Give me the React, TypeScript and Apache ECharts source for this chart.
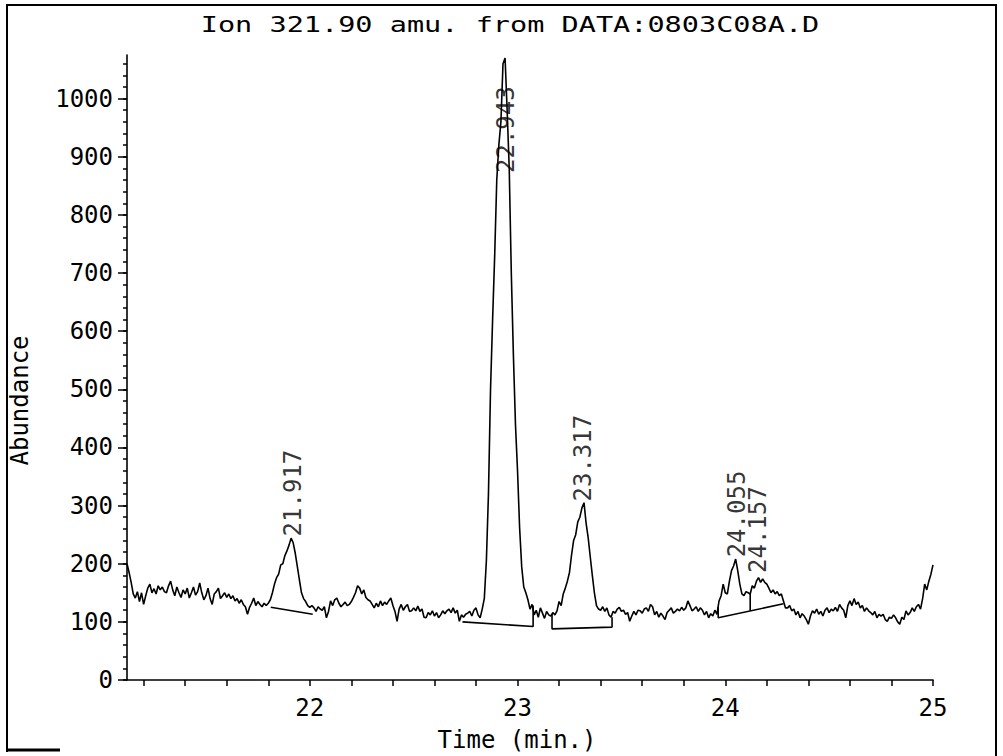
import React, { useEffect, useRef } from "react";
import * as echarts from "echarts";

const TIME_START = 21.12;
const TIME_STEP = 0.01;

// Abundance, one value every 0.01 min from 21.12 to 25.00
const abundance = [
  200, 185, 168, 148, 141, 152, 135, 150,
  130, 145, 158, 165, 150, 157, 148, 162, 155, 160,
  152, 150, 162, 170, 155, 145, 160, 150, 142, 155,
  148, 158, 141, 150, 160, 146, 152, 167, 150, 138,
  145, 158, 140, 130, 148, 152, 158, 140, 145, 150,
  142, 148, 140, 145, 136, 140, 132, 138, 130, 126,
  113, 125, 132, 141, 128, 135, 130, 126, 132, 128,
  132, 138, 150, 165, 176, 182, 198, 200, 214, 222,
  232, 244, 236, 218, 195, 172, 150, 140, 135, 128,
  125, 128, 124, 118, 126, 122, 120, 126, 107, 118,
  136, 128, 138, 141, 132, 126, 130, 134, 128, 130,
  135, 142, 150, 162, 158, 148, 155, 142, 138, 136,
  130, 124, 132, 126, 136, 128, 134, 130, 136, 141,
  128, 118, 101, 122, 130, 120, 126, 130, 118, 119,
  124, 119, 127, 118, 122, 108, 107, 116, 112, 119,
  110, 116, 107, 112, 119, 114, 119, 122, 116, 124,
  115, 120, 101, 112, 108, 113, 115, 118, 110, 120,
  124, 112, 107, 122, 140, 205, 320, 500, 620, 730,
  860, 920, 960, 1060, 1070, 980, 880, 700, 560, 440,
  360, 262, 195, 160, 150, 138, 122, 130, 112, 120,
  108, 124, 115, 106, 118, 112, 110, 116, 112, 119,
  135, 128, 148, 158, 170, 185, 215, 240, 250, 272,
  280, 296, 305, 270, 245, 212, 180, 150, 128, 122,
  120, 126, 118, 124, 112, 108, 118, 115, 122, 125,
  118, 120, 113, 116, 101, 110, 118, 112, 120, 119,
  115, 122, 124, 118, 130, 126, 112, 118, 108, 115,
  110, 104, 116, 120, 124, 115, 118, 122, 119, 125,
  120, 124, 136, 128, 119, 122, 126, 118, 124, 120,
  112, 118, 107, 114, 110, 120, 113, 136, 145, 165,
  150, 148, 170, 188, 196, 208, 188, 165, 148, 145,
  152, 150, 148, 162, 158, 170, 176, 168, 174, 168,
  165, 158, 150, 155, 148, 152, 145, 148, 136, 124,
  124, 128, 119, 122, 112, 118, 107, 114, 110, 104,
  96, 110, 119, 115, 122, 113, 118, 110, 120, 124,
  116, 122, 119, 125, 118, 130, 124, 120, 107, 128,
  136, 128, 140, 130, 134, 124, 128, 118, 124, 119,
  116, 112, 118, 107, 113, 110, 113, 104, 101, 108,
  106, 112, 107, 100, 96, 108, 104, 119, 112, 116,
  124, 118, 126, 130, 122, 140, 165, 155, 170, 182,
  198,
];

const xLabelValues = [22, 23, 24, 25];
const xTickValues = [
  21.2, 21.4, 21.6, 21.8, 22, 22.2, 22.4, 22.6, 22.8, 23, 23.2, 23.4, 23.6,
  23.8, 24, 24.2, 24.4, 24.6, 24.8, 25,
];
const yLabelValues = [0, 100, 200, 300, 400, 500, 600, 700, 800, 900, 1000];
const yMinorTickValues = [
  0, 20, 40, 60, 80, 100, 120, 140, 160, 180, 200, 220, 240, 260, 280, 300,
  320, 340, 360, 380, 400, 420, 440, 460, 480, 500, 520, 540, 560, 580, 600,
  620, 640, 660, 680, 700, 720, 740, 760, 780, 800, 820, 840, 860, 880, 900,
  920, 940, 960, 980, 1000, 1020, 1040, 1060,
];

const peakTimes = [21.917, 22.943, 23.317, 24.055, 24.157];
const peakLabelAbundance = [247, 872, 307, 211, 184];

// integration baselines and drop lines: [time, abundance] vertices
const baselineSegments = [
  [[21.812, 125], [22.014, 113]],
  [[22.735, 100], [23.075, 92], [23.075, 128]],
  [[23.166, 114], [23.166, 88], [23.455, 91], [23.455, 108]],
  [[23.966, 126], [23.966, 107], [24.28, 131]],
  [[24.12, 148], [24.12, 119]],
];

const TITLE = "Ion 321.90 amu. from DATA:0803C08A.D";
const FONT = '"DejaVu Sans Mono", "Liberation Mono", monospace';

export default function App() {
  const ref = useRef<HTMLDivElement>(null);

  useEffect(() => {
    if (!ref.current) return;
    const chart = echarts.init(ref.current, null, { renderer: "svg" });
    const trace = abundance.map((v, i) => [
      Number((TIME_START + i * TIME_STEP).toFixed(2)),
      v,
    ]);
    const black = "#000";
    const series: any[] = [
      {
        type: "line",
        data: trace,
        showSymbol: false,
        lineStyle: { color: black, width: 1.6 },
        z: 3,
      },
      ...baselineSegments.map((seg) => ({
        type: "line",
        data: seg,
        showSymbol: false,
        lineStyle: { color: black, width: 1.6 },
        z: 2,
      })),
      {
        type: "scatter",
        data: peakTimes.map((t, i) => ({
          value: [t, peakLabelAbundance[i]],
          name: t.toFixed(3),
        })),
        symbolSize: 0,
        label: {
          show: true,
          formatter: (p: any) => p.name,
          position: "top",
          distance: 0,
          rotate: 90,
          align: "left",
          verticalAlign: "middle",
          fontFamily: FONT,
          fontSize: 24,
          color: black,
          textBorderWidth: 0,
        },
        z: 4,
      },
    ];

    chart.setOption({
      animation: false,
      backgroundColor: "#fff",
      grid: {
        left: 127,
        right: 70,
        top: 55,
        bottom: 76,
        outerBoundsMode: "none",
      },
      xAxis: {
        type: "value",
        min: 21.12,
        max: 25,
        name: "Time (min.)",
        nameLocation: "middle",
        nameGap: 48,
        nameTextStyle: {
          fontFamily: FONT,
          fontSize: 24,
          color: black,
          padding: [0, 26, 0, 0],
        },
        axisLine: { lineStyle: { color: black, width: 1.6 } },
        axisTick: {
          show: true,
          customValues: xTickValues,
          length: 6,
          lineStyle: { color: black, width: 1.5 },
        },
        axisLabel: {
          customValues: xLabelValues,
          formatter: (v: number) => String(v),
          fontFamily: FONT,
          fontSize: 24,
          color: black,
          margin: 16,
        },
        splitLine: { show: false },
      },
      yAxis: [
        {
          type: "value",
          position: "left",
          min: 0,
          max: 1075,
          name: "Abundance",
          nameLocation: "middle",
          nameGap: 95,
          nameRotate: 90,
          nameTextStyle: {
            fontFamily: FONT,
            fontSize: 24,
            color: black,
            padding: [0, 66, 0, 0],
          },
          axisLine: { show: true, lineStyle: { color: black, width: 1.6 } },
          axisTick: {
            show: true,
            customValues: yLabelValues,
            length: 9,
            lineStyle: { color: black, width: 1.5 },
          },
          axisLabel: {
            customValues: yLabelValues,
            formatter: (v: number) => String(v),
            fontFamily: FONT,
            fontSize: 24,
            color: black,
            margin: 14,
          },
          splitLine: { show: false },
        },
        {
          type: "value",
          position: "left",
          min: 0,
          max: 1075,
          axisLine: { show: false },
          axisTick: {
            show: true,
            customValues: yMinorTickValues,
            length: 4,
            lineStyle: { color: black, width: 1.5 },
          },
          axisLabel: { show: false },
          splitLine: { show: false },
        },
      ],
      graphic: [
        {
          type: "text",
          x: 510,
          y: 25,
          scaleX: 1.36,
          style: {
            text: TITLE,
            fontFamily: FONT,
            fontSize: 21,
            fill: black,
            align: "center",
            verticalAlign: "middle",
          },
        },
        {
          type: "polyline",
          shape: {
            points: [
              [7, 752],
              [7, 5],
              [996, 5],
              [996, 756],
            ],
          },
          style: { stroke: black, lineWidth: 2, fill: null },
        },
        {
          type: "line",
          shape: { x1: 7, y1: 750, x2: 60, y2: 750 },
          style: { stroke: black, lineWidth: 3 },
        },
      ],
      series,
    });
    return () => chart.dispose();
  }, []);

  return (
    <div
      ref={ref}
      style={{ position: "fixed", left: 0, top: 0, width: 1003, height: 756 }}
    />
  );
}
